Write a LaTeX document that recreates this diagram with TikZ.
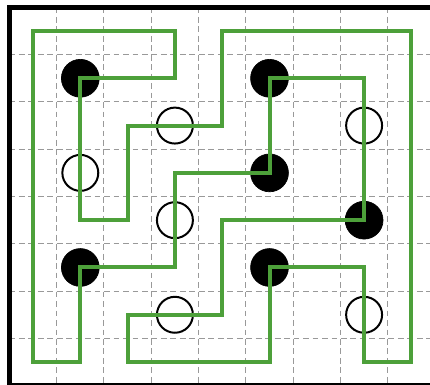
\documentclass[tikz,border=0pt]{standalone}
\usetikzlibrary{calc}
\definecolor{loopgreen}{RGB}{77,160,58}
\tikzset{
  gridline/.style={gray!80,line width=0.6pt,dash pattern=on 3.5pt off 2.2pt},
  blackdot/.style={fill=black,draw=black},
  whitedot/.style={fill=white,draw=black,line width=1.2pt},
}

\begin{document}
\begin{tikzpicture}[x=1cm,y=-1cm]
        \useasboundingbox (-0.698,-0.655) rectangle (8.393,7.484);
        \clip (-0.698,-0.655) rectangle (8.393,7.484);

        % dashed grid
        \foreach \i in {0,...,7}
            \draw[gridline] (\i+0.5,-0.5) -- (\i+0.5,7.5);
        \foreach \j in {0,...,6}
            \draw[gridline] (-0.5,\j+0.5) -- (8.5,\j+0.5);
        \draw[line width=3pt] (-0.5,-0.5) rectangle (8.5,7.5);

        % circles
        \foreach \p in {(1,1),(5,1),(5,3),(7,4),(1,5),(5,5)}
            \draw[blackdot] \p circle (0.4);
        \foreach \p in {(3,2),(7,2),(1,3),(3,4),(3,6),(7,6)}
            \draw[whitedot] \p circle (0.38);

        % loop
        \draw[loopgreen,line width=2.4pt,line join=miter]
            (1,1) -- (3,1) -- (3,0) -- (0,0) -- (0,7) -- (1,7) -- (1,5)
            -- (3,5) -- (3,3) -- (5,3) -- (5,1) -- (7,1) -- (7,4) -- (4,4)
            -- (4,6) -- (2,6) -- (2,7) -- (5,7) -- (5,5) -- (7,5) -- (7,7)
            -- (8,7) -- (8,0) -- (4,0) -- (4,2) -- (2,2) -- (2,4) -- (1,4)
            -- cycle;
\end{tikzpicture}
\end{document}
